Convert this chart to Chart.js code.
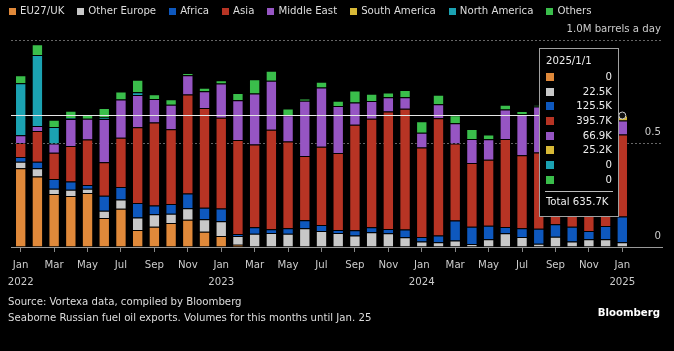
<!DOCTYPE html>
<html>
<head>
<meta charset="utf-8">
<script src="https://cdn.jsdelivr.net/npm/chart.js@4.4.1/dist/chart.umd.min.js"></script>
<style>
  html, body { margin: 0; padding: 0; background: #000; }
  body {
    width: 674px; height: 351px; position: relative; overflow: hidden;
    font-family: 'DejaVu Sans Condensed', 'Liberation Sans Narrow', sans-serif;
    color: #ddd;
  }
  #c { position: absolute; left: 0; top: 0; }
  #legend { position: absolute; left: 9px; top: 3px; display: flex; font-size: 11.3px; line-height: 16px; white-space: nowrap; }
  .item { display: flex; align-items: center; margin-right: 13px; }
  .sw { width: 7px; height: 7px; margin-right: 4px; }
  #source { position: absolute; left: 8px; top: 294px; font-size: 11.3px; line-height: 16px; }
  #brand { position: absolute; right: 14px; top: 305px; font-size: 11.3px; line-height: 16px; font-weight: bold; color: #fff; }
</style>
</head>
<body>
<canvas id="c" width="674" height="351"></canvas>
<div id="legend"></div>
<div id="source">Source: Vortexa data, compiled by Bloomberg<br>Seaborne Russian fuel oil exports. Volumes for this months until Jan. 25</div>
<div id="brand">Bloomberg</div>
<script>
// months (thousand barrels a day)
const months = [
  '2022-01','2022-02','2022-03','2022-04','2022-05','2022-06','2022-07','2022-08','2022-09','2022-10','2022-11','2022-12',
  '2023-01','2023-02','2023-03','2023-04','2023-05','2023-06','2023-07','2023-08','2023-09','2023-10','2023-11','2023-12',
  '2024-01','2024-02','2024-03','2024-04','2024-05','2024-06','2024-07','2024-08','2024-09','2024-10','2024-11','2024-12',
  '2025-01'
];
const monthNames = ['Jan','Feb','Mar','Apr','May','Jun','Jul','Aug','Sep','Oct','Nov','Dec'];

const eu27uk = [380,341,256,246,261,140,185,82,98,116,132,74, 53,11,0,0,0,0,0,0,0,0,0,0, 0,0,0,0,0,0,0,0,0,0,0,0, 0];
const otherEurope = [32,39,26,31,21,35,45,61,60,45,55,60, 72,42,64,68,64,90,77,68,55,71,66,47, 27,23,31,14,37,66,48,16,50,26,37,37, 22.46];
const africa = [23,32,47,39,18,72,60,69,43,47,72,56, 61,10,32,18,27,39,29,14,26,24,21,37, 21,32,97,84,66,31,42,72,60,72,40,64, 125.48];
const asia = [68,148,126,172,219,163,238,367,401,361,478,481, 438,454,399,480,419,311,378,372,509,525,568,584, 433,567,372,308,319,425,353,369,400,385,395,380, 395.7];
const middleEast = [37,24,45,130,100,208,184,155,113,118,93,82, 166,192,246,237,127,266,287,227,108,85,68,55, 71,68,98,116,98,142,198,222,130,110,100,120, 66.9];
const southAmerica = [0,0,0,0,0,0,0,0,0,0,0,0, 0,0,0,0,0,0,0,0,0,0,0,0, 0,0,0,0,0,0,0,0,0,0,0,0, 25.18];
const northAmerica = [251,343,80,5,0,8,0,13,0,0,0,0, 0,0,0,0,0,0,0,0,0,0,0,0, 0,0,0,0,0,0,0,0,0,0,0,0, 0];
const others = [39,52,35,35,19,45,39,61,23,27,10,16, 16,35,69,48,32,11,27,26,58,35,23,35, 56,45,39,48,24,23,16,6,20,20,20,15, 0];

const yTicks = [0, 500, 1000];

const series = [
  { name: 'EU27/UK', values: eu27uk, color: '#e0893a' },
  { name: 'Other Europe', values: otherEurope, color: '#c8c8c8' },
  { name: 'Africa', values: africa, color: '#0e58be' },
  { name: 'Asia', values: asia, color: '#b73424' },
  { name: 'Middle East', values: middleEast, color: '#9655c3' },
  { name: 'South America', values: southAmerica, color: '#d7b937' },
  { name: 'North America', values: northAmerica, color: '#1ba2b2' },
  { name: 'Others', values: others, color: '#3abe4b' }
];

const FONT = "'DejaVu Sans Condensed', 'Liberation Sans Narrow', sans-serif";

// legend
const legend = document.getElementById('legend');
series.forEach(s => {
  const it = document.createElement('div');
  it.className = 'item';
  it.innerHTML = `<span class="sw" style="background:${s.color}"></span>${s.name}`;
  legend.appendChild(it);
});

function fmtK(v) {
  return v === 0 ? '0' : v.toFixed(1) + 'K';
}

// hovered month box, crosshair and point
const hoverPlugin = {
  id: 'hover',
  afterDatasetsDraw(chart) {
    const ctx = chart.ctx;
    const xs = chart.scales.x, ys = chart.scales.y;
    const i = months.length - 1;
    const total = series.reduce((a, s) => a + s.values[i], 0);
    const px = xs.getPixelForValue(i);
    const py = Math.round(ys.getPixelForValue(total)) + 0.5;
    ctx.save();
    ctx.strokeStyle = '#e6e6e6';
    ctx.lineWidth = 1;
    ctx.beginPath();
    ctx.moveTo(chart.chartArea.left, py);
    ctx.lineTo(px, py);
    ctx.stroke();

    ctx.beginPath();
    ctx.arc(px, py, 3.5, 0, Math.PI * 2);
    ctx.fillStyle = '#111';
    ctx.fill();
    ctx.strokeStyle = '#cfcfcf';
    ctx.stroke();

    const w = 80, h = 169;
    const bx = Math.round(px - 3 - w), by = Math.round(chart.chartArea.top + 8);
    ctx.fillStyle = '#000';
    ctx.fillRect(bx, by, w, h);
    ctx.strokeStyle = '#a0a0a0';
    ctx.strokeRect(bx + 0.5, by + 0.5, w - 1, h - 1);

    const [yy, mm] = months[i].split('-');
    ctx.font = '11.3px ' + FONT;
    ctx.textBaseline = 'middle';
    ctx.fillStyle = '#eee';
    ctx.textAlign = 'left';
    ctx.fillText(`${yy}/${+mm}/1`, bx + 7, by + 13.5);

    series.forEach((s, k) => {
      const cy = by + 29 + k * 14.67;
      ctx.fillStyle = s.color;
      ctx.fillRect(bx + 7, Math.round(cy - 4), 8, 8);
      ctx.fillStyle = '#eee';
      ctx.textAlign = 'right';
      ctx.fillText(fmtK(s.values[i]), bx + 73, cy);
    });

    ctx.strokeStyle = '#bbb';
    ctx.beginPath();
    ctx.moveTo(bx + 6, by + 143.5);
    ctx.lineTo(bx + 74, by + 143.5);
    ctx.stroke();
    ctx.textAlign = 'left';
    ctx.fillStyle = '#eee';
    ctx.fillText('Total ' + fmtK(total), bx + 7, by + 154);
    ctx.restore();
  }
};

const xTickIdx = months.map((m, i) => i).filter(i => i % 2 === 0);

new Chart(document.getElementById('c'), {
  type: 'bar',
  data: {
    datasets: series.map(s => ({
      label: s.name,
      data: s.values.map((v, i) => ({ x: i, y: v })),
      backgroundColor: s.color,
      borderColor: 'rgba(0,0,0,0.35)',
      borderWidth: 1,
      barPercentage: 0.68,
      categoryPercentage: 1
    }))
  },
  options: {
    responsive: false,
    animation: false,
    layout: { padding: { left: 11, right: 12, top: 40, bottom: 59 } },
    plugins: {
      legend: { display: false },
      tooltip: { enabled: false }
    },
    scales: {
      x: {
        type: 'linear',
        stacked: true,
        offset: false,
        min: -0.58,
        max: 38.375,
        afterBuildTicks: s => { s.ticks = xTickIdx.map(v => ({ value: v })); },
        afterFit: s => { s.height = 45; },
        ticks: {
          color: '#ccc',
          font: { family: FONT, size: 11.3, lineHeight: 1.55 },
          padding: 4,
          maxRotation: 0,
          autoSkip: false,
          callback: v => {
            const [yy, mm] = months[v].split('-');
            const name = monthNames[+mm - 1];
            return mm === '01' ? [name, yy] : name;
          }
        },
        grid: { offset: false, drawOnChartArea: false, drawTicks: true, tickLength: 5, color: '#888' },
        border: { color: '#999' }
      },
      y: {
        position: 'right',
        stacked: true,
        min: 0,
        max: 1000,
        afterBuildTicks: s => { s.ticks = yTicks.map(v => ({ value: v })); },
        afterFit: s => { s.width = 0; },
        ticks: {
          mirror: true,
          padding: -1,
          labelOffset: -11,
          color: '#ccc',
          font: { family: FONT, size: 11.3 },
          callback: v => v === 1000 ? '1.0M barrels a day' : (v === 0 ? '0' : (v / 1000).toFixed(1))
        },
        grid: {
          color: c => c.tick && c.tick.value === 0 ? 'rgba(0,0,0,0)' : '#666',
          drawTicks: false
        },
        border: { display: false, dash: [2, 2] }
      }
    }
  },
  plugins: [hoverPlugin]
});
</script>
</body>
</html>
